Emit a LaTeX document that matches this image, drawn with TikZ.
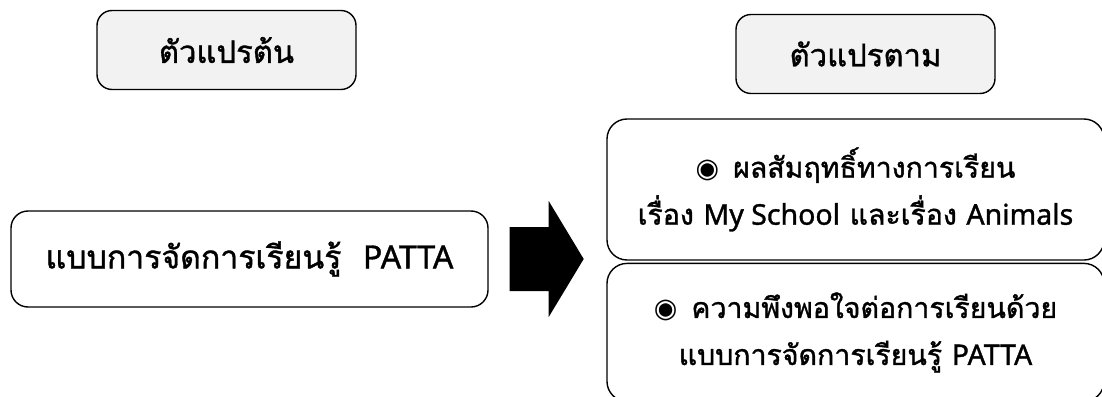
\documentclass[tikz,border=0pt]{standalone}
\usepackage{fontspec}
\newfontfamily\thaifont[Script=Thai,RawFeature={embolden=1.2}]{Loma}
\newfontfamily\latfont[RawFeature={embolden=1.2}]{Noto Sans}
\newfontfamily\symfont{DejaVu Sans}
\usetikzlibrary{positioning}
\definecolor{kopfgrau}{HTML}{F2F2F2}
\newcommand{\punkt}{{\symfont\fontsize{27}{27}\selectfont\char"25C9}\hspace{14pt}}
\newcommand{\lat}[1]{{\latfont #1}}
\tikzset{
  kasten/.style={draw, line width=1.4pt, rounded corners=#1, align=center, inner sep=0pt}, % Rahmen
  kopf/.style={kasten=15pt, fill=kopfgrau, minimum width=259pt, minimum height=79pt,
    font=\thaifont\fontsize{31}{40}\selectfont}, % Kopfzeile
  ziel/.style={kasten=20pt, minimum width=497pt, font=\thaifont\fontsize{28.5}{47}\selectfont} % rechte Kaesten
}

\begin{document}
\begin{tikzpicture}[
x=1pt, y=-1pt,
font=\thaifont\fontsize{32}{47}\selectfont
]
\useasboundingbox (0,0) rectangle (1102,396);
\clip (0,0) rectangle (1102,396);

%Kopfzeilen
\node[kopf] (unab) at (226.5,50) {ตัวแปรต้น};
\node[kopf] (abh) at (865.5,54) {ตัวแปรตาม};

%Kaesten
\node[kasten=17pt, minimum width=477pt, minimum height=96pt] (modell) at (249.5,259)
  {แบบการจัดการเรียนรู้ \ \lat{PATTA}};
\node[ziel, minimum height=141pt] (erg) at (855.5,189.5)
  {\punkt ผลสัมฤทธิ์ทางการเรียน\\เรื่อง \lat{My School} และเรื่อง \lat{Animals}};
\node[ziel, minimum height=138pt, below=2pt of erg] (zuf)
  {\punkt ความพึงพอใจต่อการเรียนด้วย\\แบบการจัดการเรียนรู้ \lat{PATTA}};

%Pfeil
\coordinate[right=21pt of modell] (pfeil);
\fill ([yshift=32pt]pfeil) -- ++(39,0) -- ++(0,-26) -- ++(35,58) -- ++(-35,58)
  -- ++(0,-26) -- ++(-39,0) -- cycle;

\end{tikzpicture}
\end{document}
